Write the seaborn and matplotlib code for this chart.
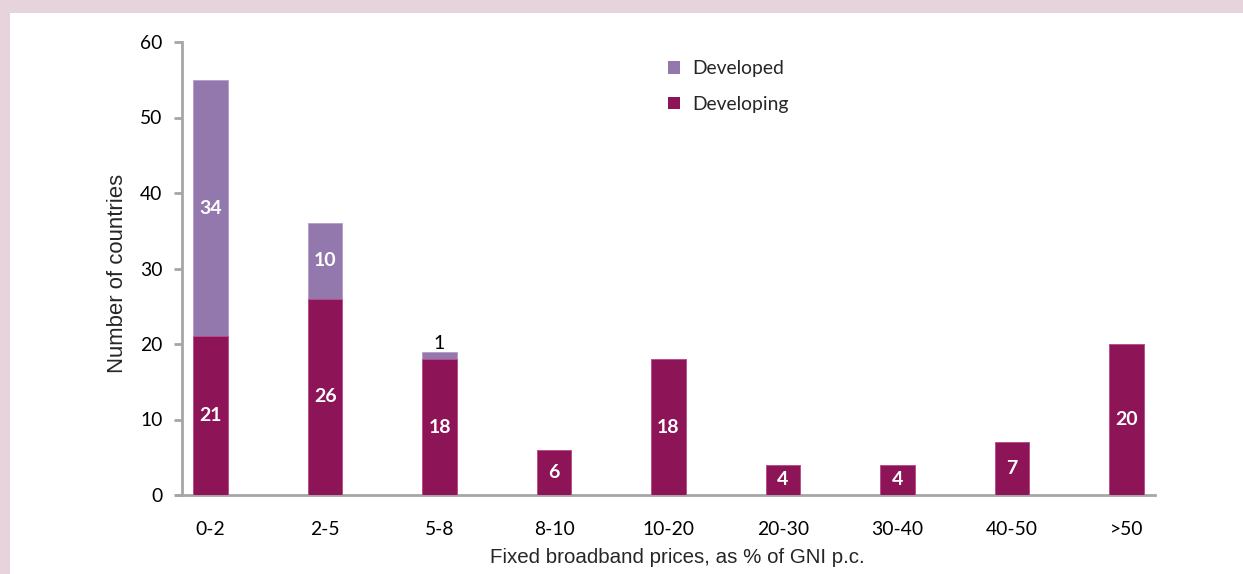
import matplotlib
matplotlib.use("Agg")
import matplotlib.pyplot as plt
import matplotlib.patches as mpatches
import seaborn as sns
import pandas as pd
import numpy as np

categories = ["0-2", "2-5", "5-8", "8-10", "10-20", "20-30", "30-40", "40-50", ">50"]
developing = [21, 26, 18, 6, 18, 4, 4, 7, 20]
developed = [34, 10, 1, 0, 0, 0, 0, 0, 0]
y_ticks = [0, 10, 20, 30, 40, 50, 60]

COL_DEVELOPED = "#9378ae"
COL_DEVELOPING = "#8e1458"
SPINE = "#a6a6a6"

sns.set_theme(style="white")
plt.rcParams["font.family"] = ["Lato", "DejaVu Sans"]

df = pd.DataFrame({"category": categories,
                   "developing": developing,
                   "developed": developed})
df["total"] = df["developing"] + df["developed"]

fig = plt.figure(figsize=(12.43, 5.74), dpi=100)
fig.patch.set_facecolor("#e6d3dc")
fig.patches.append(mpatches.Rectangle((10 / 1243, 0), 1, 1 - 13 / 574,
                                      transform=fig.transFigure,
                                      facecolor="white", edgecolor="none", zorder=-10))

ax = fig.add_axes([182 / 1243, 1 - 495 / 574, (1155 - 182) / 1243, (495 - 42) / 574])
ax.set_facecolor("none")

sns.barplot(data=df, x="category", y="total", color=COL_DEVELOPED, saturation=1,
            width=0.3, ax=ax, edgecolor="#b79ac8", linewidth=0.6, zorder=2)
sns.barplot(data=df, x="category", y="developing", color=COL_DEVELOPING, saturation=1,
            width=0.3, ax=ax, edgecolor="#c0508a", linewidth=0.6, zorder=3)

n = len(categories)
ax.set_xlim(-0.25, n - 0.75)
ax.set_ylim(0, 60)
ax.set_yticks(y_ticks)

for i in range(n):
    dv = developing[i]
    dd = developed[i]
    ax.text(i, dv / 2, str(dv), ha="center", va="center", color="white",
            fontsize=14, fontweight="bold", zorder=5)
    if dd >= 5:
        ax.text(i, dv + dd / 2, str(dd), ha="center", va="center", color="white",
                fontsize=14, fontweight="bold", zorder=5)
    elif dd > 0:
        ax.text(i, dv + dd + 1.1, str(dd), ha="center", va="center", color="black",
                fontsize=14, zorder=5)

for s in ["top", "right"]:
    ax.spines[s].set_visible(False)
for s in ["left", "bottom"]:
    ax.spines[s].set_color(SPINE)
    ax.spines[s].set_linewidth(2)
ax.spines["bottom"].set_bounds(-0.25 - 6 / 114.4, n - 0.75)

ax.tick_params(axis="y", which="major", left=True, length=6, width=2, color=SPINE,
               labelsize=13.9, pad=8, labelcolor="black")
ax.tick_params(axis="x", which="major", bottom=False, labelsize=13.9, pad=13,
               labelcolor="black")

ax.set_xlabel("Fixed broadband prices, as % of GNI p.c.", fontsize=14.8,
              family=["Liberation Sans", "DejaVu Sans"], labelpad=7, x=0.509)
ax.set_ylabel("Number of countries", fontsize=15.9,
              family=["Liberation Sans", "DejaVu Sans"], labelpad=9, y=0.488)

handles = [mpatches.Patch(facecolor=COL_DEVELOPED, edgecolor="none", label="Developed"),
           mpatches.Patch(facecolor=COL_DEVELOPING, edgecolor="none", label="Developing")]
ax.legend(handles=handles, loc="upper left", bbox_to_anchor=(0.482, 0.998), frameon=False,
          fontsize=13.9, handlelength=0.62, handleheight=0.62, handletextpad=0.62,
          labelspacing=0.95)

fig.savefig("out.png", dpi=100, facecolor=fig.get_facecolor())
